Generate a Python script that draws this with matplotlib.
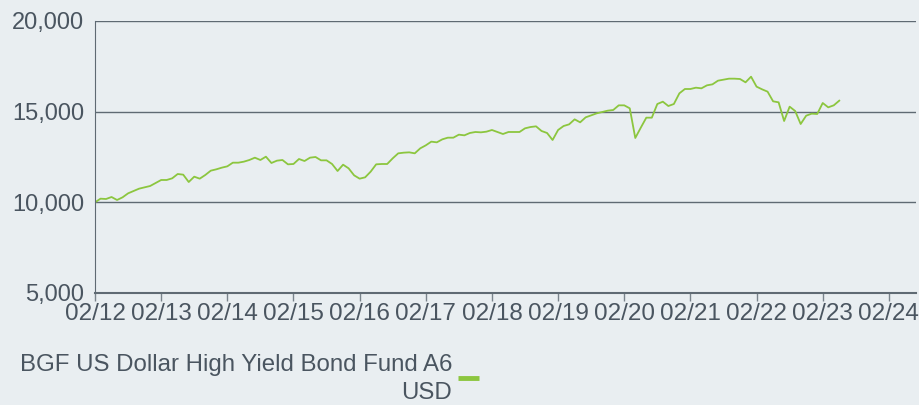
import numpy as np
import matplotlib
matplotlib.use("Agg")
import matplotlib.pyplot as plt

plt.rcParams['font.family'] = ['Liberation Sans', 'DejaVu Sans']

# monthly growth of 10,000, starting 02/2012
fund_values = [
    10000, 10202, 10184, 10294, 10129, 10276, 10496, 10625, 10754, 10827,
    10901, 11066, 11232, 11232, 11324, 11562, 11526, 11121, 11415, 11305,
    11507, 11746, 11820, 11912, 11985, 12187, 12187, 12243, 12335, 12463,
    12335, 12518, 12169, 12298, 12335, 12096, 12114, 12390, 12279, 12463,
    12500, 12316, 12316, 12114, 11728, 12077, 11875, 11489, 11305, 11379,
    11691, 12096, 12114, 12114, 12426, 12702, 12739, 12757, 12702, 12978,
    13143, 13346, 13309, 13474, 13566, 13566, 13732, 13695, 13824, 13879,
    13860, 13897, 13989, 13879, 13768, 13879, 13879, 13879, 14081, 14154,
    14191, 13934, 13824, 13437, 13989, 14209, 14301, 14577, 14412, 14687,
    14798, 14908, 14982, 15055, 15092, 15349, 15349, 15184, 13548, 14118,
    14669, 14669, 15423, 15551, 15312, 15423, 16011, 16250, 16250, 16323,
    16287, 16452, 16507, 16709, 16765, 16820, 16820, 16801, 16618, 16930,
    16379, 16232, 16103, 15570, 15515, 14485, 15276, 15037, 14320, 14779,
    14890, 14871, 15478, 15239, 15349, 15607,
]
tick_labels = ["02/12", "02/13", "02/14", "02/15", "02/16", "02/17", "02/18",
               "02/19", "02/20", "02/21", "02/22", "02/23", "02/24"]
y_ticks = [5000, 10000, 15000, 20000]
series_name = "BGF US Dollar High Yield Bond Fund A6\nUSD"

bg = "#E9EEF1"
txt = "#4A5560"
green = "#8CC63F"

fig = plt.figure(figsize=(9.19, 4.05), dpi=100, facecolor=bg)
ax = fig.add_axes([95 / 919, 1 - 293 / 405, 821 / 919, 272 / 405])
ax.set_facecolor(bg)

years = np.arange(len(fund_values)) / 12.0
ax.plot(years, fund_values, color=green, lw=1.3)

ax.set_ylim(5000, 20000)
ax.set_xlim(0, 12.41)
ax.set_yticks(y_ticks)
ax.set_yticklabels(["{:,}".format(v) for v in y_ticks])
ax.set_xticks(range(len(tick_labels)))
ax.set_xticklabels(tick_labels)

for v in y_ticks[1:]:
    ax.axhline(v, color="#5F6A73", lw=1.0, zorder=0)

for s in ["top", "right"]:
    ax.spines[s].set_visible(False)
ax.spines["left"].set_color("#5F6A73")
ax.spines["bottom"].set_color("#5F6A73")
ax.spines["bottom"].set_linewidth(1.5)

ax.tick_params(axis="y", length=0, pad=8, labelsize=17, labelcolor=txt)
ax.tick_params(axis="x", length=6, width=1, color="#7A848C", pad=1,
               labelsize=17.5, labelcolor=txt)

# legend
name_line1, name_line2 = series_name.split("\n")
fig.text(452 / 919, 1 - 365 / 405, name_line1, ha="right", va="center",
         fontsize=17.3, color=txt)
fig.text(452 / 919, 1 - 393 / 405, name_line2, ha="right", va="center",
         fontsize=17.3, color=txt)
fig.add_artist(plt.Line2D([458 / 919, 479 / 919], [1 - 378 / 405, 1 - 378 / 405],
                          color=green, lw=3.5, solid_capstyle="butt"))

fig.savefig("out.png", dpi=100, facecolor=bg)
